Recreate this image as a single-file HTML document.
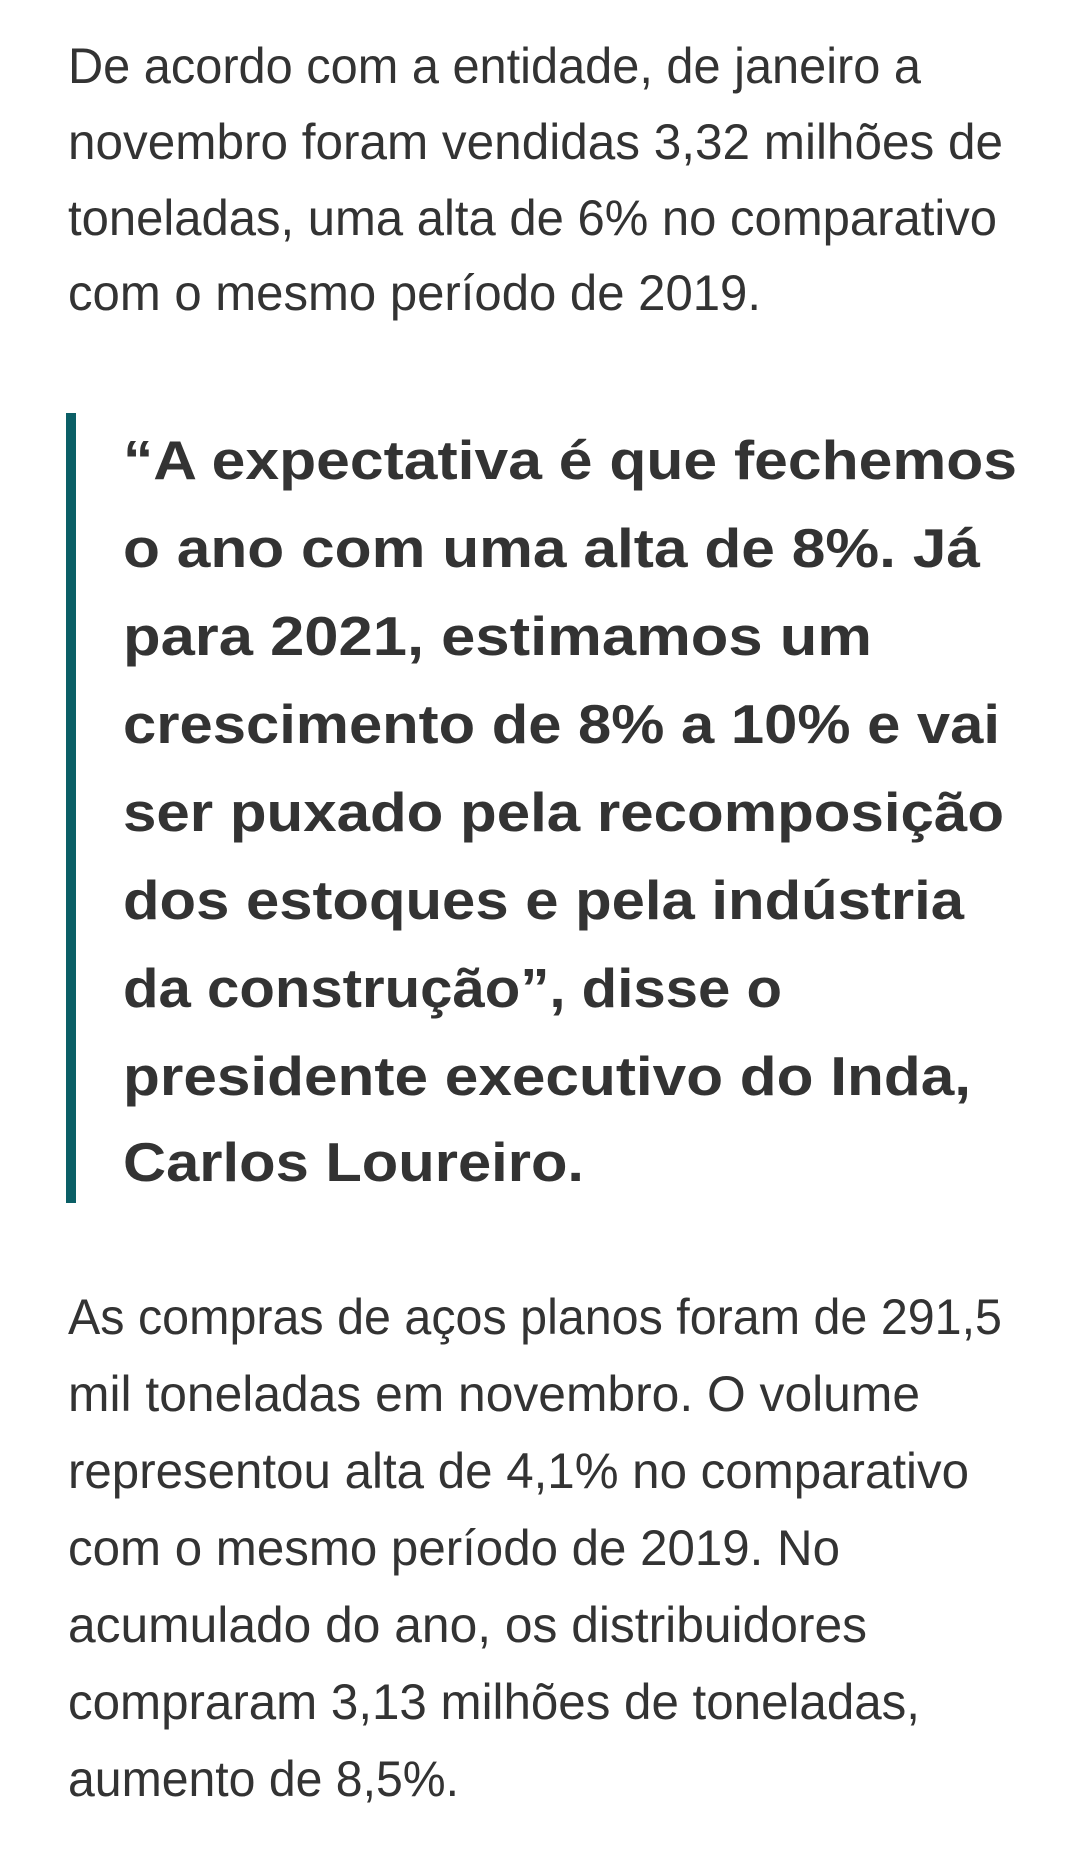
<!DOCTYPE html>
<html><head><meta charset="utf-8"><style>
html,body{margin:0;padding:0;background:#fff;}
svg{display:block}
.p{font-family:"Liberation Sans",sans-serif;font-size:50px;fill:#333;}
.q{font-family:"Liberation Sans",sans-serif;font-size:55px;font-weight:bold;fill:#333;}
</style></head><body>
<svg width="1065" height="1851" viewBox="0 0 1065 1851" xmlns="http://www.w3.org/2000/svg">
<rect width="1065" height="1851" fill="#fff"/>
<g class="p">
<text x="68" y="83" textLength="853" lengthAdjust="spacingAndGlyphs">De acordo com a entidade, de janeiro a</text>
<text x="68" y="159" textLength="935" lengthAdjust="spacingAndGlyphs">novembro foram vendidas 3,32 milhões de</text>
<text x="68" y="235" textLength="929" lengthAdjust="spacingAndGlyphs">toneladas, uma alta de 6% no comparativo</text>
<text x="68" y="310" textLength="693" lengthAdjust="spacingAndGlyphs">com o mesmo período de 2019.</text>
</g>
<rect x="66" y="413" width="10" height="790" fill="#0b5f66"/>
<g class="q">
<text x="123" y="479" textLength="894" lengthAdjust="spacingAndGlyphs">“A expectativa é que fechemos</text>
<text x="123" y="567" textLength="857" lengthAdjust="spacingAndGlyphs">o ano com uma alta de 8%. Já</text>
<text x="123" y="655" textLength="749" lengthAdjust="spacingAndGlyphs">para 2021, estimamos um</text>
<text x="123" y="743" textLength="877" lengthAdjust="spacingAndGlyphs">crescimento de 8% a 10% e vai</text>
<text x="123" y="831" textLength="881" lengthAdjust="spacingAndGlyphs">ser puxado pela recomposição</text>
<text x="123" y="919" textLength="841" lengthAdjust="spacingAndGlyphs">dos estoques e pela indústria</text>
<text x="123" y="1007" textLength="659" lengthAdjust="spacingAndGlyphs">da construção”, disse o</text>
<text x="123" y="1095" textLength="848" lengthAdjust="spacingAndGlyphs">presidente executivo do Inda,</text>
<text x="123" y="1181" textLength="461" lengthAdjust="spacingAndGlyphs">Carlos Loureiro.</text>
</g>
<g class="p">
<text x="68" y="1334" textLength="934" lengthAdjust="spacingAndGlyphs">As compras de aços planos foram de 291,5</text>
<text x="68" y="1411" textLength="852" lengthAdjust="spacingAndGlyphs">mil toneladas em novembro. O volume</text>
<text x="68" y="1488" textLength="901" lengthAdjust="spacingAndGlyphs">representou alta de 4,1% no comparativo</text>
<text x="68" y="1565" textLength="772" lengthAdjust="spacingAndGlyphs">com o mesmo período de 2019. No</text>
<text x="68" y="1642" textLength="799" lengthAdjust="spacingAndGlyphs">acumulado do ano, os distribuidores</text>
<text x="68" y="1719" textLength="852" lengthAdjust="spacingAndGlyphs">compraram 3,13 milhões de toneladas,</text>
<text x="68" y="1796" textLength="391" lengthAdjust="spacingAndGlyphs">aumento de 8,5%.</text>
</g>
</svg>
</body></html>
